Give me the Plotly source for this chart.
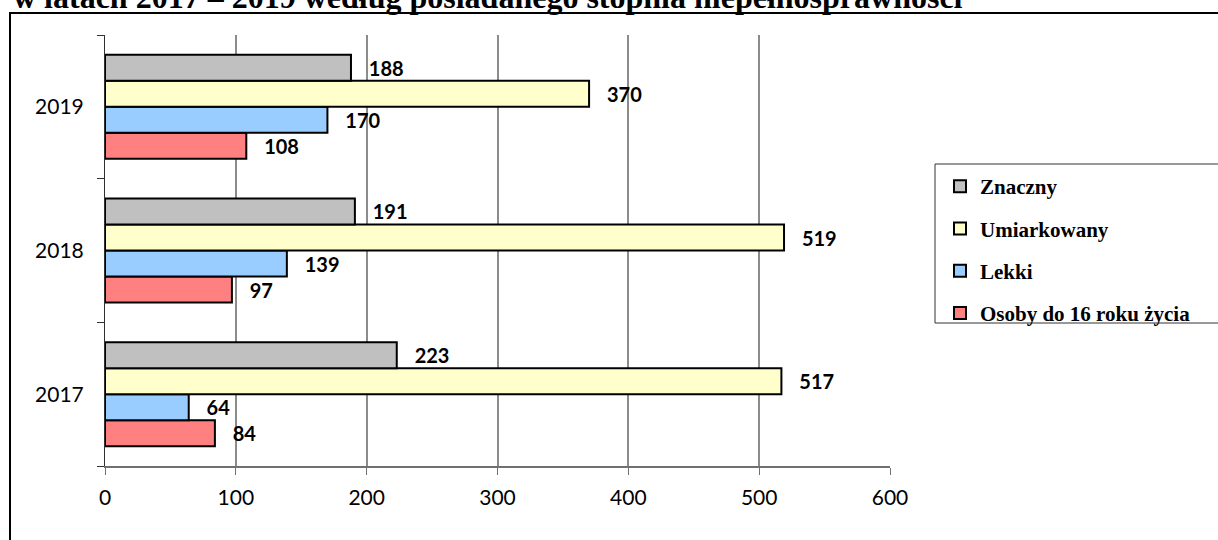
import plotly.graph_objects as go

years = ["2017", "2018", "2019"]
series_names = ["Osoby do 16 roku życia", "Lekki", "Umiarkowany", "Znaczny"]
osoby = [84, 97, 108]
lekki = [64, 139, 170]
umiarkowany = [517, 519, 370]
znaczny = [223, 191, 188]
values = [osoby, lekki, umiarkowany, znaczny]
colors = ["#FF8080", "#99CCFF", "#FFFFCC", "#C0C0C0"]
legend_ranks = [4, 3, 2, 1]
x_ticks = [0, 100, 200, 300, 400, 500, 600]
title_text = "w latach 2017 – 2019 według posiadanego stopnia niepełnosprawności"

fig = go.Figure()
for name, vals, col, rank in zip(series_names, values, colors, legend_ranks):
    fig.add_trace(go.Bar(
        y=years, x=vals, name=name, orientation="h",
        marker=dict(color=col, line=dict(color="black", width=2)),
        text=vals, texttemplate="\u2002\u00a0%{x}", textposition="outside",
        textfont=dict(family="Lato", size=20, color="black", weight="bold"),
        constraintext="none", cliponaxis=False,
        legendgroup=name, legendrank=rank,
    ))

PX_L, PX_T, PW, PH = 105, 35, 785, 431

def px_x(p):
    return (p - PX_L) / PW

def px_y(p):
    return 1 - (p - PX_T) / PH

fig.update_layout(
    width=1218, height=540,
    margin=dict(l=105, r=328, t=35, b=74),
    paper_bgcolor="white", plot_bgcolor="white",
    barmode="group", bargap=0.276, bargroupgap=0,
    showlegend=True,
    legend=dict(
        x=px_x(940), y=px_y(166), xanchor="left", yanchor="top",
        traceorder="grouped", tracegroupgap=12,
        font=dict(family="Liberation Serif", size=21, color="black", weight="bold"),
        borderwidth=0, bgcolor="rgba(0,0,0,0)",
    ),
    xaxis=dict(
        range=[0, 600], tickvals=x_ticks, ticktext=[str(v) for v in x_ticks],
        showgrid=True, gridcolor="#8C8C8C", gridwidth=2, zeroline=False,
        showline=True, linecolor="#707070", linewidth=2,
        ticks="outside", ticklen=7, tickcolor="#707070", tickwidth=1,
        tickfont=dict(family="Lato", size=21, color="black"),
        ticklabelstandoff=5,
    ),
    yaxis=dict(
        type="category", categoryorder="array", categoryarray=years,
        showgrid=False, zeroline=False,
        showline=True, linecolor="#303030", linewidth=1,
        ticks="outside", tickson="boundaries", ticklen=7, tickcolor="#303030",
        tickfont=dict(family="Lato", size=21, color="black"),
        ticklabelstandoff=16,
    ),
    shapes=[
        dict(
            type="rect", xref="paper", yref="paper",
            x0=px_x(10), x1=1.5, y0=-0.3, y1=px_y(13),
            line=dict(color="black", width=2), fillcolor="rgba(0,0,0,0)", layer="below",
        ),
        dict(
            type="rect", xref="paper", yref="paper",
            x0=px_x(935), x1=px_x(1240), y0=px_y(323), y1=px_y(164),
            line=dict(color="#333333", width=1), fillcolor="white", layer="below",
        ),
    ],
    annotations=[dict(
        text=title_text, xref="paper", yref="paper",
        x=px_x(11), y=px_y(-3), xanchor="left", yanchor="middle",
        showarrow=False,
        font=dict(family="Liberation Serif", size=32, color="black", weight="bold"),
    )],
)

fig.write_html("out.html", config={"displayModeBar": False},
               post_script="document.body.style.margin='0';")
